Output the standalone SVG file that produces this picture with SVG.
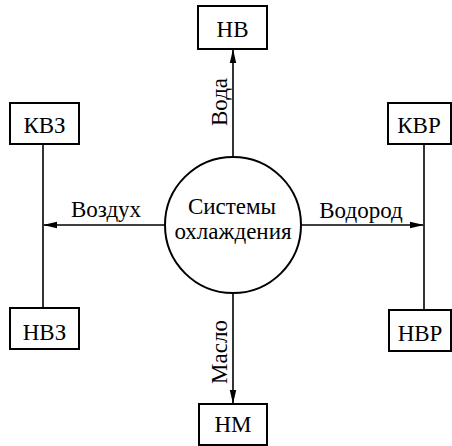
<svg xmlns="http://www.w3.org/2000/svg" width="452" height="446" viewBox="0 0 452 446">
<style>
.box{fill:#fff;stroke:#000;stroke-width:2}
.ln{fill:none;stroke:#000;stroke-width:1.6}
.c{text-anchor:middle}
</style>
<defs>
<marker id="ah" markerWidth="14" markerHeight="8" refX="13" refY="4" orient="auto" markerUnits="userSpaceOnUse">
<path d="M0,0.8 L14,4 L0,7.2 Z" fill="#000"/>
</marker>
</defs>
<rect width="452" height="446" fill="#fff"/>
<g font-family="Liberation Serif, Times New Roman, serif" font-size="23" fill="#000">
<g id="connectors">
<line class="ln" x1="233" y1="158" x2="233" y2="50" marker-end="url(#ah)"/>
<line class="ln" x1="233" y1="293" x2="233" y2="403" marker-end="url(#ah)"/>
<line class="ln" x1="165" y1="225" x2="44" y2="225" marker-end="url(#ah)"/>
<line class="ln" x1="301" y1="225" x2="423" y2="225" marker-end="url(#ah)"/>
<line class="ln" x1="43" y1="144" x2="43" y2="308"/>
<line class="ln" x1="424" y1="144" x2="424" y2="310"/>
<text x="0" y="0" class="c" transform="translate(227,102) rotate(-90)">Вода</text>
<text x="0" y="0" class="c" transform="translate(227,352) rotate(-90)">Масло</text>
<text x="106" y="217" class="c">Воздух</text>
<text x="361" y="218" class="c">Водород</text>
</g>
<g id="center">
<circle cx="233" cy="225" r="68" fill="#fff" stroke="#000" stroke-width="2"/>
<text x="232" y="214" class="c">Системы</text>
<text x="233" y="239" class="c">охлаждения</text>
</g>
<g id="HB"><rect class="box" x="198" y="6" width="69" height="43"/><text x="232.500" y="37" class="c">НВ</text></g>
<g id="HM"><rect class="box" x="199" y="404" width="68" height="41"/><text x="233" y="432" class="c">НМ</text></g>
<g id="KBZ"><rect class="box" x="10" y="103" width="69" height="41"/><text x="44.500" y="133" class="c">КВЗ</text></g>
<g id="HBZ"><rect class="box" x="10" y="308" width="69" height="41"/><text x="44.500" y="340" class="c">НВЗ</text></g>
<g id="KBP"><rect class="box" x="388" y="103" width="63" height="41"/><text x="419" y="133" class="c">КВР</text></g>
<g id="HBP"><rect class="box" x="389" y="310" width="62" height="41"/><text x="420" y="341" class="c">НВР</text></g>
</g>
</svg>
